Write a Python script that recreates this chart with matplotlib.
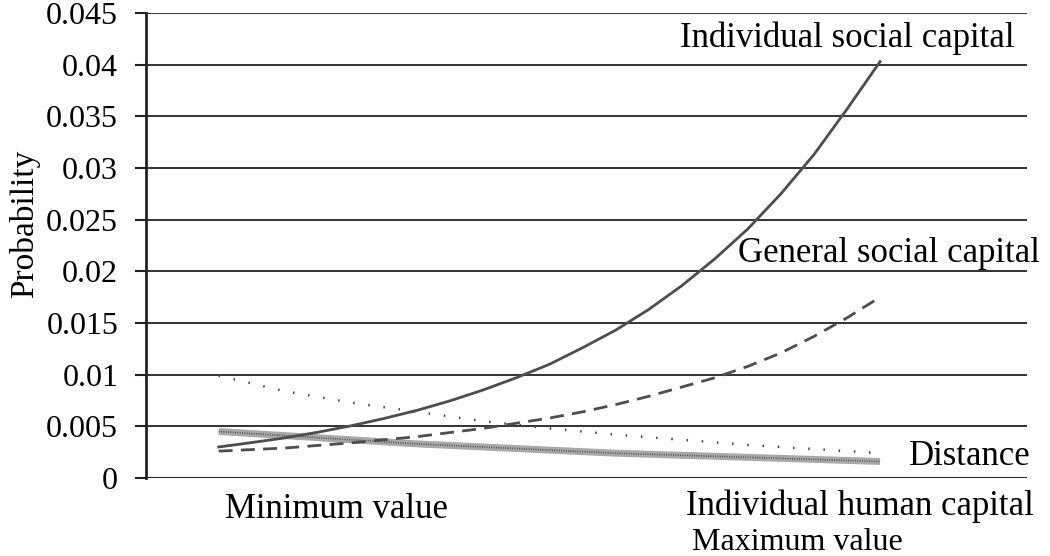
import numpy as np
from matplotlib import pyplot as plt

# position along each variable's range, 0 = minimum value, 1 = maximum value
x_fine = [0.0, 0.05, 0.1, 0.15, 0.2, 0.25, 0.3, 0.35, 0.4, 0.45, 0.5,
          0.55, 0.6, 0.65, 0.7, 0.75, 0.8, 0.85, 0.9, 0.95, 1.0]
x = [0.0, 0.1, 0.2, 0.3, 0.4, 0.5, 0.6, 0.7, 0.8, 0.9, 1.0]

individual_social = [0.0030, 0.00343, 0.00388, 0.00443, 0.00505, 0.00576, 0.00655, 0.00747, 0.00852, 0.0097, 0.0110,
                     0.0126, 0.0143, 0.0163, 0.0186, 0.0212, 0.0241, 0.0275, 0.0313, 0.0357, 0.0403]
general_social = [0.0026, 0.00275, 0.0029, 0.00315, 0.0034, 0.0037, 0.0040, 0.0044, 0.0048, 0.0053, 0.0058,
                  0.0064, 0.0071, 0.0079, 0.0088, 0.0097, 0.0108, 0.0121, 0.0137, 0.0155, 0.0175]
distance = [0.0099, 0.0084, 0.0073, 0.0064, 0.0055, 0.0048, 0.0042, 0.0037, 0.0032, 0.0028, 0.0024]
human_capital = [0.0045, 0.0041, 0.0037, 0.0033, 0.0030, 0.0027, 0.0024, 0.0022, 0.0020, 0.0018, 0.0016]

yticks = [0, 0.005, 0.01, 0.015, 0.02, 0.025, 0.03, 0.035, 0.04, 0.045]
ytick_labels = ['0', '0.005', '0.01', '0.015', '0.02', '0.025', '0.03', '0.035', '0.04', '0.045']

plt.rcParams['font.family'] = ['Liberation Serif', 'DejaVu Serif']

fig = plt.figure(figsize=(10.5, 5.56), dpi=100)
ax = fig.add_axes([0.139, 0.1403, 0.839, 0.8363])

for v in yticks[1:]:
    ax.axhline(v, color='#222222', lw=1.3, zorder=1)
ax.axhline(0, color='#222222', lw=2.2, zorder=1)

# thick grainy line for human capital
ax.plot(x, human_capital, color='#a8a8a8', lw=5, solid_capstyle='butt', zorder=2)
ax.plot(x, human_capital, color='#555555', lw=1.2, linestyle=(0, (0.6, 0.8)), zorder=2)
ax.plot(x, distance, color='#444444', lw=1.8, linestyle=(0, (0.6, 5.5)), zorder=3)
ax.plot(x_fine, general_social, color='#4d4d4d', lw=2, linestyle=(0, (5, 3)), zorder=3)
ax.plot(x_fine, individual_social, color='#4d4d4d', lw=2, zorder=3)

ax.set_xlim(-0.110, 1.222)
ax.set_ylim(0, 0.045)
ax.set_yticks(yticks)
ax.set_yticklabels(ytick_labels, fontsize=23)
ax.set_xticks([])
ax.tick_params(axis='y', length=8, width=1.5, color='#222222', pad=12)

for s in ['top', 'right', 'bottom']:
    ax.spines[s].set_visible(False)
ax.spines['left'].set_linewidth(2)
ax.spines['left'].set_color('#222222')
ax.set_ylabel('Probability', fontsize=24)
ax.yaxis.set_label_coords(-0.12, 0.546)

fs = 25
ax.text(1.204, 0.0417, 'Individual social capital', fontsize=fs, ha='right', va='baseline', clip_on=False)
ax.text(1.242, 0.0209, 'General social capital', fontsize=fs, ha='right', va='baseline', clip_on=False)
ax.text(1.227, 0.00126, 'Distance', fontsize=fs, ha='right', va='baseline', clip_on=False)
ax.text(0.706, -0.0036, 'Individual human capital', fontsize=25, ha='left', va='baseline', clip_on=False)
ax.text(0.715, -0.0070, 'Maximum value', fontsize=23, ha='left', va='baseline', clip_on=False)
ax.text(0.009, -0.00387, 'Minimum value', fontsize=fs, ha='left', va='baseline', clip_on=False)

fig.savefig('out.png', dpi=100)
